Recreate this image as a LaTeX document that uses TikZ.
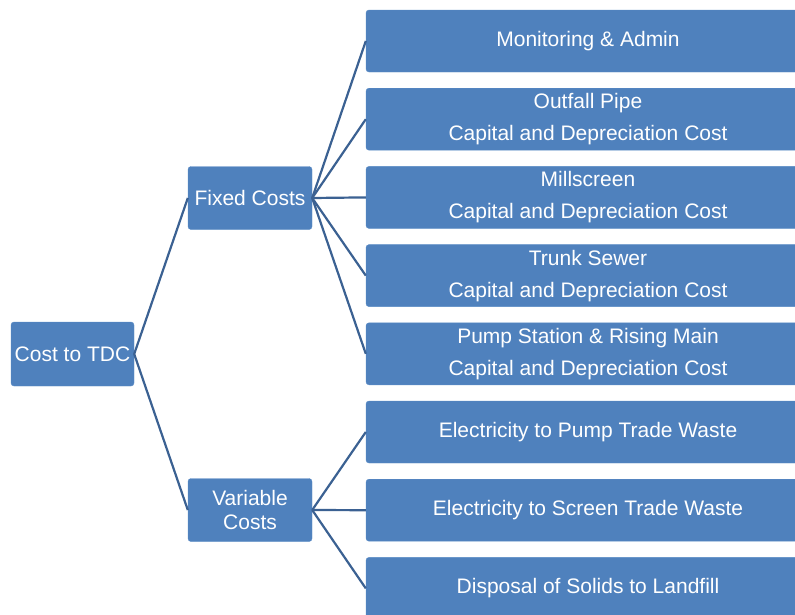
\documentclass[tikz,border=0pt]{standalone}
\usepackage{fontspec}
\setmainfont{Liberation Sans}
\usetikzlibrary{positioning}
\definecolor{boxblue}{HTML}{4F81BD}
\definecolor{boxedge}{HTML}{5B8CC6}
\definecolor{linkblue}{HTML}{3B6192}
\tikzset{%
  every cost/.style={
    rectangle,
    rounded corners=3pt,
    draw=boxedge,
    fill=boxblue,
    text=white,
    align=center,
    inner sep=0pt,
    font=\fontsize{21}{24}\selectfont
  },
  cost root/.style={minimum width=123pt, minimum height=64pt},
  cost branch/.style={minimum width=124pt, minimum height=63pt},
  cost leaf/.style={
    minimum width=444pt,
    minimum height=62pt,
    font=\fontsize{21}{32}\selectfont
  },
  link/.style={draw=linkblue, line width=2.2pt},
}

\begin{document}
\begin{tikzpicture}[x=1pt, y=-1pt]

\clip (0,0) rectangle (795,614);

\node [every cost, cost root] (root) at (72.5,354) {Cost to TDC};
\node [every cost, cost branch] (fixed) at (250,198) {Fixed Costs};
\node [every cost, cost branch] (variable) at (250,510) {Variable\\Costs};

\foreach \l [count=\i] in {%
    {Monitoring \& Admin},
    {Outfall Pipe\\Capital and Depreciation Cost},
    {Millscreen\\Capital and Depreciation Cost},
    {Trunk Sewer\\Capital and Depreciation Cost},
    {Pump Station \& Rising Main\\Capital and Depreciation Cost}}
  \node [every cost, cost leaf] (fixed-\i) at (588,41+78.2*\i-78.2) {\l};

\foreach \l [count=\i] in {%
    {Electricity to Pump Trade Waste},
    {Electricity to Screen Trade Waste},
    {Disposal of Solids to Landfill}}
  \node [every cost, cost leaf] (variable-\i) at (588,432+78.2*\i-78.2) {\l};

\draw [link] (root.east) -- (fixed.west);
\draw [link] (root.east) -- (variable.west);

\foreach \i in {1,...,5}
  \draw [link] (fixed.east) -- (fixed-\i.west);

\foreach \i in {1,...,3}
  \draw [link] (variable.east) -- (variable-\i.west);

\end{tikzpicture}
\end{document}
